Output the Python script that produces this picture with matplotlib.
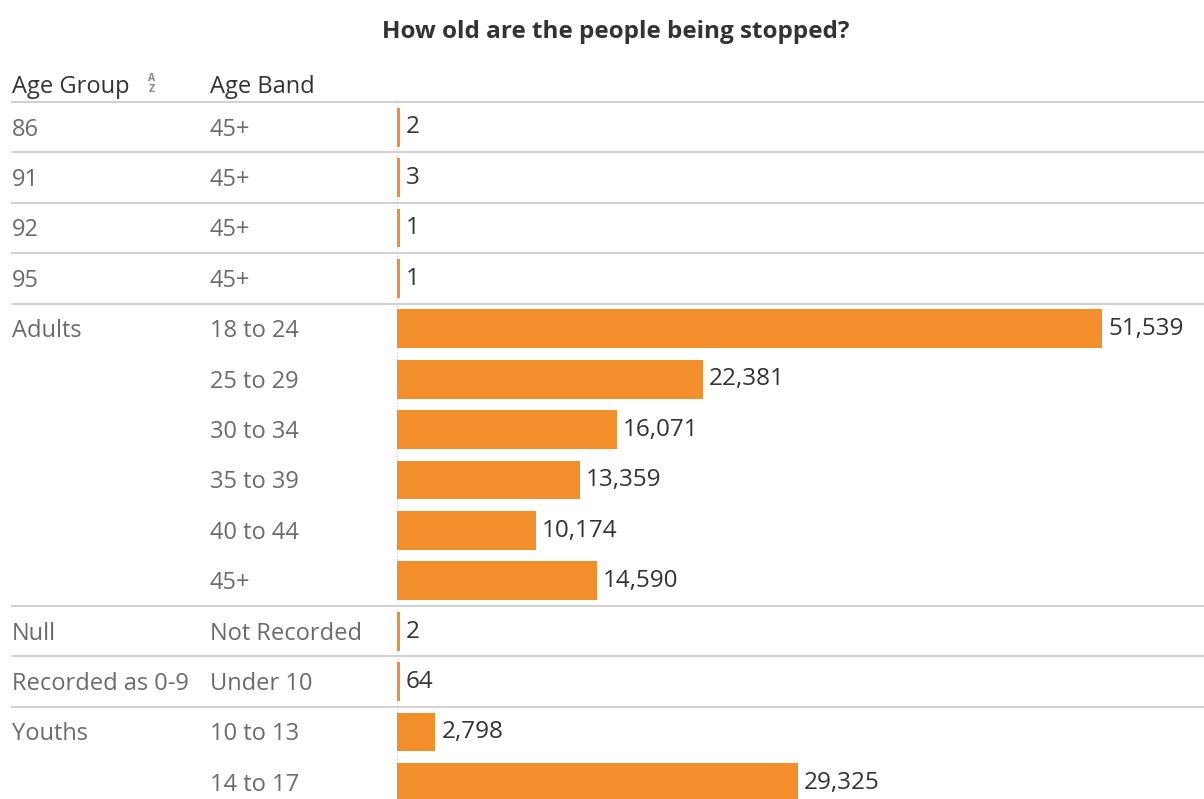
import matplotlib.pyplot as plt
from matplotlib.transforms import blended_transform_factory

age_groups = ["86", "91", "92", "95", "Adults", "", "", "", "", "",
              "Null", "Recorded as 0-9", "Youths", ""]
age_bands = ["45+", "45+", "45+", "45+", "18 to 24", "25 to 29", "30 to 34",
             "35 to 39", "40 to 44", "45+", "Not Recorded", "Under 10",
             "10 to 13", "14 to 17"]
counts = [2, 3, 1, 1, 51539, 22381, 16071, 13359, 10174, 14590, 2, 64, 2798, 29325]
# rows after which a separator line is drawn
separators = [-0.5, 0.5, 1.5, 2.5, 3.5, 9.5, 10.5, 11.5]

W, H = 1204, 799
BAR_COLOR = "#F28E2B"
FONT = "Open Sans"
FS = 17

fig = plt.figure(figsize=(W / 100, H / 100), dpi=100)
x0, y_top = 397, 102
ax = fig.add_axes([x0 / W, 0, (W - x0) / W, (H - y_top) / H])

row_h = 50.4
n_vis = (H - y_top) / row_h
ax.set_ylim(-0.5 + n_vis, -0.5)
xmax = 51539 * (W - x0) / 705
ax.set_xlim(0, xmax)
ax.axis("off")

# like Tableau, tiny values still get a visible sliver (~3 px)
min_w = 3 * xmax / (W - x0)
widths = [max(v, min_w) for v in counts]

ypos = list(range(len(counts)))
ax.barh(ypos, widths, height=0.77, color=BAR_COLOR, linewidth=0, zorder=3)

base = 0.165  # baseline offset (rows) so text sits centred in the row
for y, v, w in zip(ypos, counts, widths):
    ax.annotate(f"{v:,}", (w, y + base - 0.04), xytext=(6, 0),
                textcoords="offset pixels", va="baseline", ha="left",
                fontsize=FS + 0.5, color="#333333", family=FONT, zorder=4)

# dotted zero line
ax.plot([0, 0], [-0.5, n_vis], color="#c8c8c8", lw=0.8, ls=(0, (1, 2)),
        zorder=2, clip_on=False)

# left-side row labels in figure-pixel x
tr = blended_transform_factory(fig.dpi_scale_trans, ax.transData)
for y, (g, b) in enumerate(zip(age_groups, age_bands)):
    if g:
        ax.text(12 / 100, y + base, g, transform=tr, va="baseline", ha="left",
                fontsize=FS, color="#6b6b6b", family=FONT, clip_on=False)
    ax.text(210 / 100, y + base, b, transform=tr, va="baseline", ha="left",
            fontsize=FS, color="#6b6b6b", family=FONT, clip_on=False)

for s in separators:
    ax.plot([12 / 100, W / 100], [s, s], transform=tr, color="#d0d0d0",
            lw=1.4, clip_on=False, zorder=5)

# header
fig.text(12 / W, 1 - 93 / H, "Age Group", ha="left", va="baseline",
         fontsize=FS, color="#333333", family=FONT)
fig.text(210 / W, 1 - 93 / H, "Age Band", ha="left", va="baseline",
         fontsize=FS, color="#333333", family=FONT)
fig.text(152 / W, 1 - 78.5 / H, "A", ha="center", va="center", fontsize=7.5,
         color="#888888", family=FONT, fontweight="bold")
fig.text(152 / W, 1 - 89 / H, "Z", ha="center", va="center", fontsize=7.5,
         color="#888888", family=FONT, fontweight="bold")

fig.text(616 / W, 1 - 38 / H, "How old are the people being stopped?",
         ha="center", va="baseline", fontsize=17.5, fontweight="bold",
         color="#333333", family=FONT)

fig.savefig("out.png", dpi=100, facecolor="white")
